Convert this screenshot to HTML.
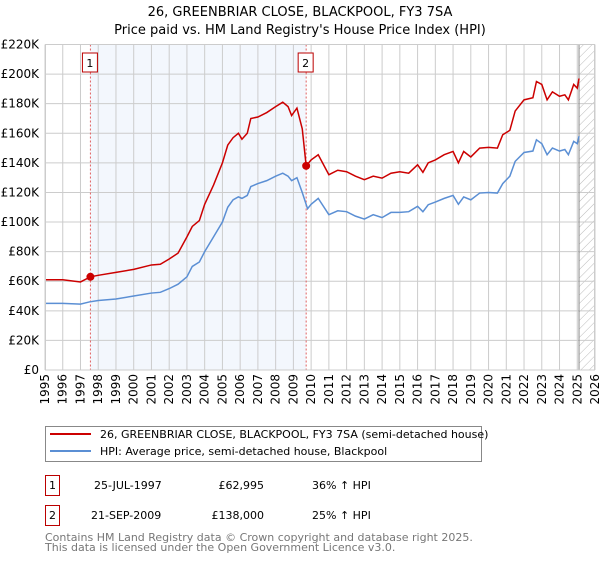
<!DOCTYPE html>
<html><head><meta charset="utf-8"><style>
body{margin:0;background:#fff;width:600px;height:560px;overflow:hidden;font-family:"DejaVu Sans","Liberation Sans",sans-serif;}
text{font-family:"DejaVu Sans","Liberation Sans",sans-serif;}
</style></head><body>
<svg id="chart" width="600" height="560" viewBox="0 0 600 560" xmlns="http://www.w3.org/2000/svg">
<defs><pattern id="hatch" width="6" height="6" patternUnits="userSpaceOnUse" patternTransform="rotate(45)"><line x1="0" y1="0" x2="0" y2="6" stroke="#bbb" stroke-width="1"/></pattern></defs>
<text x="300" y="16" text-anchor="middle" font-size="13">26, GREENBRIAR CLOSE, BLACKPOOL, FY3 7SA</text>
<text x="300" y="34" text-anchor="middle" font-size="13">Price paid vs. HM Land Registry's House Price Index (HPI)</text>
<g id="plot"></g>
<g>
<rect x="45.5" y="426.5" width="436" height="35" fill="#fff" stroke="#888"/>
<line x1="50" y1="434" x2="91" y2="434" stroke="#cc0000" stroke-width="2"/>
<text x="100" y="438" font-size="11">26, GREENBRIAR CLOSE, BLACKPOOL, FY3 7SA (semi-detached house)</text>
<line x1="50" y1="451" x2="91" y2="451" stroke="#5b8fd4" stroke-width="2"/>
<text x="100" y="455" font-size="11">HPI: Average price, semi-detached house, Blackpool</text>
</g>
<g>
<rect x="45.5" y="475.5" width="14" height="20" fill="#fff" stroke="#b00"/>
<text x="52.5" y="489" font-size="11" text-anchor="middle">1</text>
<text x="94" y="489" font-size="11">25-JUL-1997</text>
<text x="264" y="489" font-size="11" text-anchor="end">£62,995</text>
<text x="312" y="489" font-size="11">36% ↑ HPI</text>
</g>
<g>
<rect x="45.5" y="505.5" width="14" height="20" fill="#fff" stroke="#b00"/>
<text x="52.5" y="519" font-size="11" text-anchor="middle">2</text>
<text x="91" y="519" font-size="11">21-SEP-2009</text>
<text x="264" y="519" font-size="11" text-anchor="end">£138,000</text>
<text x="312" y="519" font-size="11">25% ↑ HPI</text>
</g>
<text x="45" y="541" font-size="11" fill="#777">Contains HM Land Registry data © Crown copyright and database right 2025.</text>
<text x="45" y="551" font-size="11" fill="#777">This data is licensed under the Open Government Licence v3.0.</text>
</svg>
<script>
const yearTicks=[1995,1996,1997,1998,1999,2000,2001,2002,2003,2004,2005,2006,2007,2008,2009,2010,2011,2012,2013,2014,2015,2016,2017,2018,2019,2020,2021,2022,2023,2024,2025,2026];
const priceTicks=[0,20,40,60,80,100,120,140,160,180,200,220];
const hpiYears=[1995,1996,1997,1997.5,1998,1999,2000,2001,2001.5,2002,2002.5,2003,2003.3,2003.7,2004,2004.5,2005,2005.3,2005.6,2005.9,2006.1,2006.4,2006.6,2007,2007.5,2008,2008.4,2008.7,2008.9,2009.2,2009.5,2009.8,2010,2010.4,2011,2011.5,2012,2012.5,2013,2013.5,2014,2014.5,2015,2015.5,2016,2016.3,2016.6,2017,2017.5,2018,2018.3,2018.6,2019,2019.5,2020,2020.5,2020.8,2021.2,2021.5,2022,2022.5,2022.7,2023,2023.3,2023.6,2024,2024.3,2024.5,2024.8,2025,2025.1];
const hpiValues=[45,45,44.5,46,47,48,50,52,52.5,55,58,63,70,73,80,90,100,110,115,117,116,118,124,126,128,131,133,131,128,130,120,109,112,116,105,107.6,107,104,102,105,103,106.5,106.5,107,110.6,107,111.7,113.5,116,118,112,117,115,119.6,120,119.6,126,131,141,147,148,155.6,153,145.5,150,148,149,145.5,154.5,153,158];
const priceYears=[1995,1996,1997,1997.56,1998,1999,2000,2001,2001.5,2002,2002.5,2003,2003.3,2003.7,2004,2004.5,2005,2005.3,2005.6,2005.9,2006.1,2006.4,2006.6,2007,2007.5,2008,2008.4,2008.7,2008.9,2009.2,2009.5,2009.72,2010,2010.4,2011,2011.5,2012,2012.5,2013,2013.5,2014,2014.5,2015,2015.5,2016,2016.3,2016.6,2017,2017.5,2018,2018.3,2018.6,2019,2019.5,2020,2020.5,2020.8,2021.2,2021.5,2022,2022.5,2022.7,2023,2023.3,2023.6,2024,2024.3,2024.5,2024.8,2025,2025.1];
const priceValues=[61,61,59.5,63,64,66,68,71,71.5,75,79,90,97,101,112,125,140,152,157,160,156,160,170,171,174,178,181,178,172,177,163,138,142,145.5,132,135,134,131,128.6,131,129.7,133,134,133,138.7,133.6,140,142,145.5,147.7,140,147.7,144,150,150.5,150,159,162,175,182.6,184,195,193,182.6,188,185,186,182.6,193,190.5,197];
const saleYears=[1997.56,2009.72];
const saleValues=[62.995,138];
const saleLabels=["1","2"];
const dataEnd=2025.1;

const X0=45,X1=595,Y0=370,Y1=44.5;
const x=v=>X0+(v-1995)/(2026-1995)*(X1-X0);
const y=v=>Y0-(v/220)*(Y0-Y1);
const NS="http://www.w3.org/2000/svg";
const plot=document.getElementById('plot');
function mk(tag,attrs){const e=document.createElementNS(NS,tag);for(const k in attrs)e.setAttribute(k,attrs[k]);plot.appendChild(e);return e;}

// shaded ownership region
let sh=mk('rect',{x:x(saleYears[0]),y:Y1,width:x(saleYears[1])-x(saleYears[0]),height:Y0-Y1,fill:'#eef3fc',opacity:0.7});


let ht=mk('rect',{x:x(dataEnd),y:Y1,width:X1-x(dataEnd),height:Y0-Y1,fill:'url(#hatch)'});



yearTicks.forEach(t=>{
 const g=mk('line',{x1:x(t),x2:x(t),y1:Y1,y2:Y0,stroke:'#ccc','stroke-width':1});
 
 
 const tx=mk('text',{x:0,y:0,'font-size':12,'text-anchor':'end',transform:`translate(${x(t)+4},${Y0+4}) rotate(-90)`});
 tx.textContent=t;
 
 
});
priceTicks.forEach(t=>{
 const g=mk('line',{x1:X0,x2:X1,y1:y(t),y2:y(t),stroke:'#ccc','stroke-width':1});
 
 
 const tx=mk('text',{x:X0-6,y:y(t)+4,'font-size':12,'text-anchor':'end'});
 tx.textContent=t===0?'£0':'£'+t+'K';
 
 
});
let ve=mk('line',{x1:x(dataEnd),x2:x(dataEnd),y1:Y1,y2:Y0,stroke:'#888','stroke-width':1});



saleYears.forEach((s,i)=>{
 const l=mk('line',{x1:x(s),x2:x(s),y1:Y1,y2:Y0,stroke:'#e06060','stroke-width':1,'stroke-dasharray':'2,2'});
 
 
 const b=mk('rect',{x:x(s)-8,y:53,width:15,height:19,fill:'#fff',stroke:'#b00'});
 
 
 const t=mk('text',{x:x(s)-0.5,y:67,'font-size':11,'text-anchor':'middle'});
 t.textContent=saleLabels[i];
 
 
});

const hp=mk('polyline',{points:hpiYears.map((v,i)=>x(v)+','+y(hpiValues[i])).join(' '),fill:'none',stroke:'#5b8fd4','stroke-width':1.5});


const pp=mk('polyline',{points:priceYears.map((v,i)=>x(v)+','+y(priceValues[i])).join(' '),fill:'none',stroke:'#cc0000','stroke-width':1.5});


saleYears.forEach((s,i)=>{
 const c=mk('circle',{cx:x(s),cy:y(saleValues[i]),r:4,fill:'#cc0000'});
 
 
});
const ax=mk('rect',{x:X0+0.5,y:Y1,width:X1-X0-1,height:Y0-Y1,fill:'none',stroke:'#ccc'});


</script>
</body></html>
